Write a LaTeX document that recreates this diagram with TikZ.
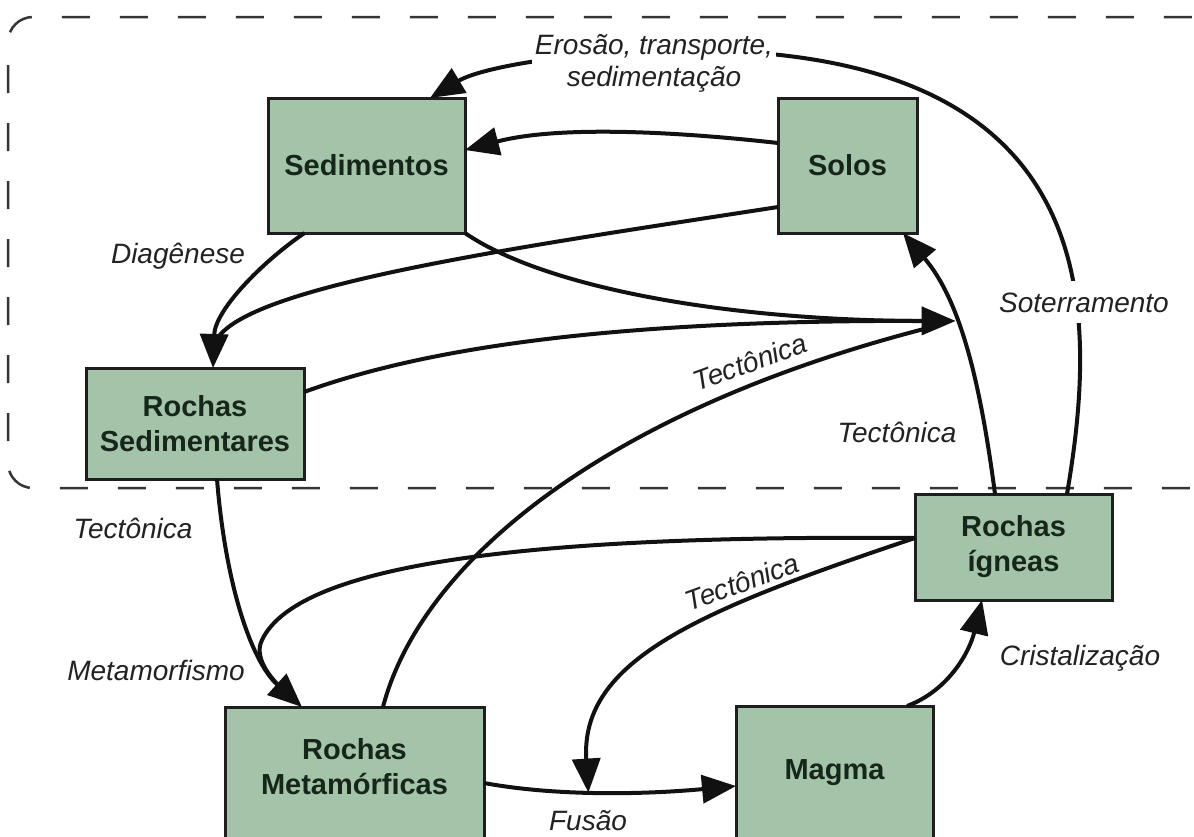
\documentclass[tikz,border=0pt]{standalone}
\usepackage{fontspec}
\setmainfont{Liberation Sans}
\usetikzlibrary{arrows.meta,calc,fit}
\definecolor{boxfill}{HTML}{A3C4A8}
\definecolor{boxline}{HTML}{1E1E1E}
\definecolor{boxtext}{HTML}{17261A}
\definecolor{ink}{HTML}{111111}
\definecolor{labelink}{HTML}{222222}
\tikzset{
  box/.style={draw=boxline, fill=boxfill, line width=3pt, outer sep=0pt, inner sep=0pt},
  boxtxt/.style={font=\bfseries\fontsize{29}{35}\selectfont, text=boxtext, align=center},
  lbl/.style={font=\itshape\fontsize{28}{32}\selectfont, text=labelink},
  conn/.style={draw=ink, line width=4pt},
  arr/.style={conn, -{Triangle[length=34pt,width=28pt]}},
  dashbox/.style={draw=ink!85, line width=2.5pt, dash pattern=on 28pt off 30pt, rounded corners=25pt}
}
\begin{document}
\begin{tikzpicture}[x=1pt,y=-1pt]
\useasboundingbox (0,0) rectangle (1194,836);
\clip (0,0) rectangle (1194,836);
\fill[white] (0,0) rectangle (1194,836);

% dashed region
\draw[dashbox, dash phase=45pt] (8,45) -- (8,17) -- (1260,17);
\draw[dashbox, dash phase=38pt] (8,45) -- (8,488) -- (1260,488);

% boxes
\node[box, boxtxt, minimum width=197pt, minimum height=135pt] (sed) at (366.5,165.5) {Sedimentos};
\node[box, boxtxt, minimum width=139pt, minimum height=135pt] (solos) at (847.5,165.5) {Solos};
\node[box, boxtxt, minimum width=218pt, minimum height=111pt] (rs) at (195,423.5) {Rochas\\Sedimentares};
\node[box, boxtxt, minimum width=197pt, minimum height=106pt] (ig) at (1013.5,547) {Rochas\\ígneas};
\node[box, fit={(225,707) (484,850)}] (met) {};
\node[boxtxt] (mettxt) at (354.5,767) {Rochas\\Metamórficas};
\node[box, fit={(736,706) (933,850)}] (mag) {};
\node[boxtxt] (magtxt) at (834.5,773) {Magma};

% connectors
\draw[arr] ($(ig.north)+(-18.5,0)$) .. controls (980,380) and (960,300) .. coordinate[pos=0.6] (hub) ($(solos.south east)+(-14,0)$);
\draw[arr] ($(solos.west)+(0,-22.5)$) .. controls (680,132) and (560,125) .. ($(sed.east)+(0,-15.5)$);
\draw[arr] ($(ig.north)+(53.5,0)$) .. controls (1100,300) and (1105,35) .. (650,51) .. controls (560,54) and (480,68) .. ($(sed.north)+(63.5,0)$);
\draw[arr] ($(sed.south)+(-62,0)$) .. controls (262,262) and (215,310) .. ($(rs.north)+(18,0)$);
\draw[conn, shorten >=18pt] ($(solos.west)+(0,41.5)$) .. controls (500,250) and (215,290) .. ($(rs.north)+(18,0)$);
\draw[conn, shorten >=18pt] (sed.south east) .. controls (540,285) and (720,322) .. (hub);
\draw[conn, shorten >=18pt] ($(met.north)+(28.5,0)$) .. controls (420,565) and (600,410) .. (hub);
\draw[arr] ($(rs.east)+(0,-31.5)$) .. controls (420,350) and (600,320) .. (hub);
\draw[arr] ($(rs.south)+(22,0)$) .. controls (225,580) and (250,660) .. ($(met.north)+(-52.5,0)$);
\draw[conn, shorten >=18pt] ($(ig.west)+(0,-9)$) .. controls (550,535) and (300,560) .. (262,640) .. controls (252,660) and (276,684) .. ($(met.north)+(-52.5,0)$);
\draw[arr] ($(met.east)+(0,4.5)$) .. controls (560,797) and (650,794) .. coordinate[pos=0.43] (fus) ($(mag.west)+(0,8)$);
\draw[arr] ($(ig.west)+(0,-9)$) .. controls (700,610) and (580,660) .. (fus);
\draw[arr] ($(mag.north)+(72.5,0)$) .. controls (950,690) and (970,650) .. ($(ig.south)+(-31.5,0)$);

% labels
\node[lbl, fill=white, align=center, inner sep=3pt] (ero) at (654,63) {Erosão, transporte,\\sedimentação};
\node[lbl, fill=white, inner xsep=3pt, inner ysep=11pt, anchor=base] (sot) at (1084,312) {Soterramento};
\node[lbl, anchor=base] (dia) at (178,263) {Diagênese};
\node[lbl, anchor=base] (tec1) at (133,538) {Tectônica};
\node[lbl, anchor=base] (metam) at (156,680) {Metamorfismo};
\node[lbl, anchor=base] (tec2) at (897,442) {Tectônica};
\node[lbl, rotate=20] (tec3) at (750,362) {Tectônica};
\node[lbl, rotate=20] (tec4) at (742,582) {Tectônica};
\node[lbl, anchor=base] (cri) at (1080,665) {Cristalização};
\node[lbl, anchor=base] (fuslab) at (588,830) {Fusão};
\end{tikzpicture}
\end{document}
